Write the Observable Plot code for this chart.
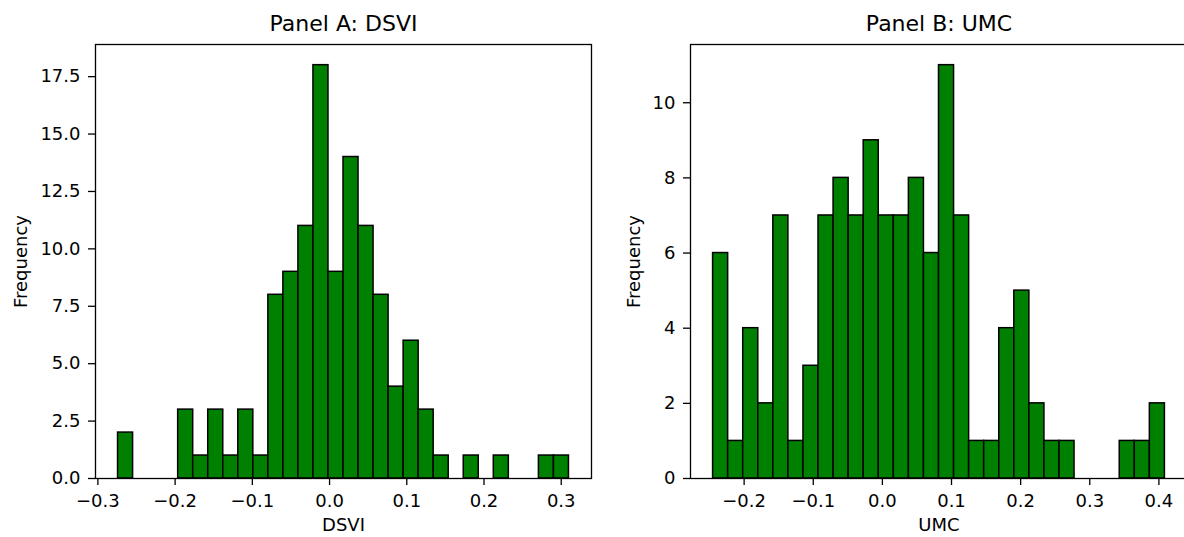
<!DOCTYPE html>
<html>
<head>
<meta charset="utf-8">
<script src="https://cdn.jsdelivr.net/npm/d3@7"></script>
<script src="https://cdn.jsdelivr.net/npm/@observablehq/plot@0.6"></script>
<style>
  html, body { margin: 0; padding: 0; background: #fff; overflow: hidden; }
  #wrap { position: relative; width: 1184px; height: 537px; overflow: hidden; }
  #wrap > svg { position: absolute; top: 0; }
  #wrap svg g[aria-label$="tick label"] text { font-size: 18px !important; }
</style>
</head>
<body>
<div id="wrap"></div>
<script>
// ---- Data (30-bin histograms) ----
const dsviRange = [-0.2739, 0.3100];           // data min / max (bin range)
const dsviCounts = [2, 0, 0, 0, 3, 1, 3, 1, 3, 1, 8, 9, 11, 18, 9, 14, 11, 8, 4, 6, 3, 1, 0, 1, 0, 1, 0, 0, 1, 1];
const dsviXTicks = [-0.3, -0.2, -0.1, 0.0, 0.1, 0.2, 0.3];
const dsviYTicks = [0, 2.5, 5, 7.5, 10, 12.5, 15, 17.5];

const umcRange = [-0.2449, 0.4087];
const umcCounts = [6, 1, 4, 2, 7, 1, 3, 7, 8, 7, 9, 7, 7, 8, 6, 11, 7, 1, 1, 4, 5, 2, 1, 1, 0, 0, 0, 1, 1, 2];
const umcXTicks = [-0.2, -0.1, 0.0, 0.1, 0.2, 0.3, 0.4];
const umcYTicks = [0, 2, 4, 6, 8, 10];

const titles = ["Panel A: DSVI", "Panel B: UMC"];
const xLabels = ["DSVI", "UMC"];
const yLabel = "Frequency";

function binTable(range, counts) {
  const [lo, hi] = range;
  const w = (hi - lo) / counts.length;
  return counts.map((c, i) => ({x1: lo + i * w, x2: lo + (i + 1) * w, count: c})).filter(d => d.count > 0);
}

function panel({range, counts, xTicks, yTicks, yFmt, title, xLabel, left, marginLeft, marginRight, yLabelDx}) {
  const [lo, hi] = range;
  const pad = 0.05 * (hi - lo);
  const ymax = d3.max(counts) * 1.05;
  const chart = Plot.plot({
    width: 600,
    height: 537,
    marginLeft, marginRight,
    marginTop: 44,
    marginBottom: 59,
    style: {fontFamily: "DejaVu Sans, sans-serif", fontSize: "18px", color: "#000", background: "transparent", overflow: "visible"},
    x: {domain: [lo - pad, hi + pad]},
    y: {domain: [0, ymax]},
    marks: [
      Plot.rectY(binTable(range, counts), {x1: "x1", x2: "x2", y: "count", fill: "#008000", stroke: "#000", strokeWidth: 1.5}),
      Plot.frame({stroke: "#000", strokeWidth: 1.3}),
      Plot.axisX({ticks: xTicks, tickFormat: d3.format(".1f"), tickSize: 7, tickPadding: 9, label: null, fontSize: 18, strokeWidth: 1.3}),
      Plot.axisY({ticks: yTicks, tickFormat: yFmt, tickSize: 7, tickPadding: 8, label: null, fontSize: 18, strokeWidth: 1.3}),
      Plot.text([title], {frameAnchor: "top", dy: -21, lineAnchor: "middle", fontSize: 22, text: d => d}),
      Plot.text([xLabel], {frameAnchor: "bottom", dy: 47, lineAnchor: "middle", fontSize: 18, text: d => d}),
      Plot.text([yLabel], {frameAnchor: "left", dx: yLabelDx, rotate: -90, lineAnchor: "middle", textAnchor: "middle", fontSize: 18, text: d => d})
    ]
  });
  chart.style.left = left + "px";
  return chart;
}

const wrap = document.getElementById("wrap");
wrap.appendChild(panel({range: dsviRange, counts: dsviCounts, xTicks: dsviXTicks, yTicks: dsviYTicks, yFmt: d3.format(".1f"),
  title: titles[0], xLabel: xLabels[0], left: 0, marginLeft: 95, marginRight: 9, yLabelDx: -74}));
wrap.appendChild(panel({range: umcRange, counts: umcCounts, xTicks: umcXTicks, yTicks: umcYTicks, yFmt: d3.format("d"),
  title: titles[1], xLabel: xLabels[1], left: 600, marginLeft: 90, marginRight: 13, yLabelDx: -56}));
</script>
</body>
</html>
